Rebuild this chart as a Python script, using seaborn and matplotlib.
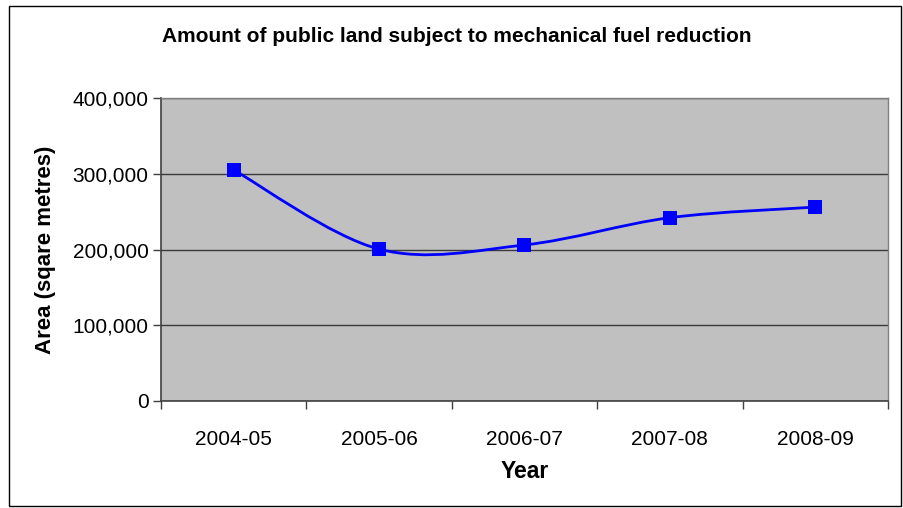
import numpy as np
import pandas as pd
import matplotlib
matplotlib.use("Agg")
import matplotlib.pyplot as plt
import seaborn as sns
from matplotlib.path import Path
from matplotlib.patches import PathPatch, Rectangle
from matplotlib.ticker import FuncFormatter, FixedLocator

# Data
years = ["2004-05", "2005-06", "2006-07", "2007-08", "2008-09"]
area = [305000, 200500, 206000, 242000, 256000]

sns.set_theme(style="white")
plt.rcParams["font.family"] = ["Liberation Sans", "DejaVu Sans"]
plt.rcParams["text.color"] = "black"

df = pd.DataFrame({"year": years, "area": area})
df["pos"] = np.arange(len(years))

fig = plt.figure(figsize=(9.04, 5.08), dpi=100)
ax = fig.add_axes([161 / 904, 1 - 401 / 508, (888 - 161) / 904, (401 - 98) / 508])
ax.set_facecolor("#C0C0C0")

# smoothed line like Excel (bezier through the points)
px = df["pos"].to_numpy(dtype=float)
py = df["area"].to_numpy(dtype=float)
verts = [(px[0], py[0])]
codes = [Path.MOVETO]
n = len(px)
for i in range(n - 1):
    p0 = (px[max(i - 1, 0)], py[max(i - 1, 0)])
    p1 = (px[i], py[i])
    p2 = (px[i + 1], py[i + 1])
    p3 = (px[min(i + 2, n - 1)], py[min(i + 2, n - 1)])
    c1 = (p1[0] + (p2[0] - p0[0]) / 6, p1[1] + (p2[1] - p0[1]) / 6)
    c2 = (p2[0] - (p3[0] - p1[0]) / 6, p2[1] - (p3[1] - p1[1]) / 6)
    verts += [c1, c2, p2]
    codes += [Path.CURVE4] * 3
ax.add_patch(PathPatch(Path(verts, codes), facecolor="none", edgecolor="#0000FF",
                       lw=2.0, zorder=3))

sns.scatterplot(data=df, x="pos", y="area", marker="s", s=105, color="#0000FF",
                edgecolor="#0000FF", linewidth=0, zorder=4, ax=ax, legend=False)

ax.set_xlim(-0.5, n - 0.5)
ax.set_ylim(0, 400000)
ax.yaxis.set_major_locator(FixedLocator([0, 100000, 200000, 300000, 400000]))
ax.yaxis.set_major_formatter(FuncFormatter(lambda v, _: f"{int(v):,}"))
ax.grid(axis="y", color="#3a3a3a", lw=1)
ax.set_axisbelow(True)

ax.set_xticks(np.arange(n))
ax.set_xticklabels(years)
ax.set_xticks(np.arange(n + 1) - 0.5, minor=True)
ax.tick_params(axis="x", which="major", length=0, pad=21, labelsize=15, labelcolor="black")
ax.tick_params(axis="x", which="minor", length=6, width=1, direction="out",
               color="#404040", bottom=True)
ax.tick_params(axis="y", length=6, width=1, direction="out", color="#404040",
               left=True, pad=3, labelsize=15, labelcolor="black")

for s in ["left", "bottom"]:
    ax.spines[s].set_color("#404040")
    ax.spines[s].set_linewidth(1.2)
for s in ["top", "right"]:
    ax.spines[s].set_color("#808080")
    ax.spines[s].set_linewidth(1)

ax.set_xlabel("")
ax.set_ylabel("")
fig.text(46 / 904, 1 - 250 / 508, "Area (sqare metres)", rotation=90, ha="center",
         va="center", fontsize=16, fontweight="bold")
fig.text(525 / 904, 1 - 471 / 508, "Year", ha="center", va="center",
         fontsize=16.5, fontweight="bold")
fig.text(457 / 904, 1 - 37 / 508, "Amount of public land subject to mechanical fuel reduction",
         ha="center", va="center", fontsize=15, fontweight="bold")

fig.patches.append(Rectangle((8.5 / 904, 2 / 508), (901 - 8.5) / 904, (502 - 2) / 508,
                             transform=fig.transFigure, fill=False, edgecolor="black",
                             lw=1))

fig.savefig("out.png", dpi=100)
